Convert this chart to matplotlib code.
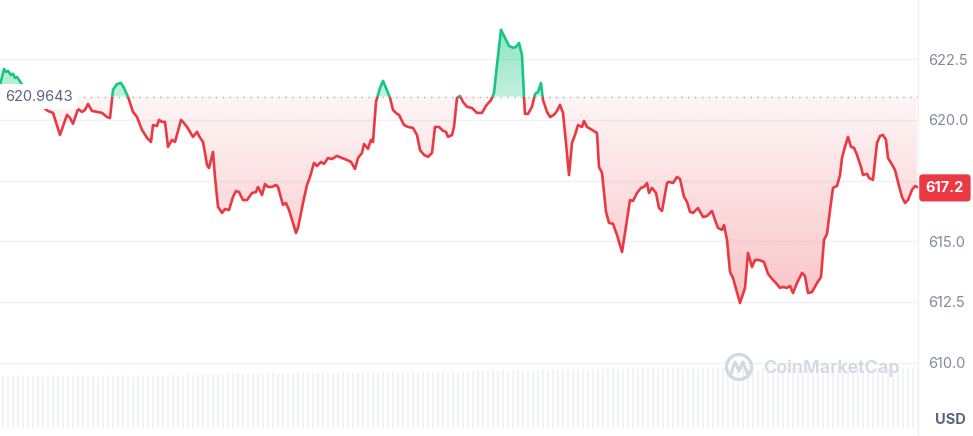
import numpy as np
import matplotlib
matplotlib.use('Agg')
import matplotlib.pyplot as plt
from matplotlib.colors import to_rgb
from matplotlib.patches import Rectangle, Circle
from matplotlib.path import Path

plt.rcParams['font.family'] = ['Inter', 'DejaVu Sans']

RED = '#ea3943'
GREEN = '#16c784'
LABEL = '#58667e'

# price of the period open (dotted reference) and the last price
open_price = 620.9643
last_price = 617.2

# time (sample index across the 24h window) and price in USD
t = [0, 4, 6, 8, 11, 13, 15, 17, 21, 30,
     40, 48, 53, 60, 67, 70, 73, 78, 82, 85,
     88, 92, 97, 102, 107, 110, 113, 117, 121, 124,
     128, 133, 137, 142, 147, 151, 153, 157, 159, 162,
     165, 168, 172, 175, 181, 183, 187, 193, 197, 199,
     203, 205, 207, 209, 213, 215, 218, 222, 225, 229,
     233, 236, 239, 243, 247, 252, 256, 258, 262, 265,
     268, 272, 276, 278, 283, 286, 289, 293, 296, 298,
     303, 307, 310, 314, 317, 321, 324, 328, 332, 337,
     342, 347, 351, 355, 358, 362, 364, 368, 371, 373,
     376, 380, 383, 386, 390, 393, 397, 399, 404, 408,
     413, 417, 420, 424, 428, 432, 435, 439, 443, 446,
     448, 452, 454, 457, 460, 463, 467, 472, 477, 482,
     486, 491, 494, 497, 501, 505, 509, 513, 516, 519,
     522, 524, 525, 528, 532, 535, 538, 541, 543, 547,
     550, 554, 557, 560, 563, 566, 569, 572, 575, 578,
     582, 584, 587, 592, 597, 599, 602, 606, 609, 613,
     617, 622, 625, 630, 633, 637, 641, 644, 647, 649,
     652, 656, 659, 662, 667, 669, 673, 677, 680, 684,
     687, 690, 693, 698, 703, 707, 712, 715, 718, 722,
     724, 727, 730, 733, 740, 745, 748, 752, 755, 759,
     764, 768, 772, 776, 780, 783, 787, 790, 793, 797,
     802, 805, 808, 812, 817, 821, 824, 827, 830, 833,
     837, 840, 842, 845, 848, 851, 854, 857, 861, 863,
     867, 869, 873, 877, 880, 883, 886, 888, 891, 895,
     899, 902, 905, 908, 912, 915, 917]

price = [621.44, 622.10, 621.98, 622.02, 621.85, 621.90, 621.73, 621.77, 621.52, 621.03,
         620.62, 620.37, 620.29, 619.38, 620.21, 620.08, 619.84, 620.45, 620.33, 620.41,
         620.66, 620.37, 620.33, 620.29, 620.12, 620.08, 621.24, 621.48, 621.52, 621.32,
         620.95, 620.33, 620.12, 619.59, 619.26, 619.09, 619.79, 619.75, 620.00, 619.92,
         619.92, 618.89, 619.18, 619.09, 620.00, 619.92, 619.71, 619.30, 619.51, 619.34,
         619.09, 618.64, 618.15, 618.02, 618.68, 617.65, 616.42, 616.17, 616.33, 616.29,
         616.83, 617.07, 617.03, 616.70, 616.70, 616.99, 617.03, 617.24, 616.91, 617.36,
         617.24, 617.24, 617.32, 617.24, 616.50, 616.58, 616.29, 615.76, 615.34, 615.55,
         616.58, 617.32, 617.65, 618.23, 618.10, 618.27, 618.19, 618.43, 618.39, 618.52,
         618.43, 618.35, 618.27, 617.98, 618.43, 618.64, 619.01, 618.81, 619.18, 619.09,
         620.74, 621.32, 621.61, 621.32, 620.91, 620.41, 620.25, 620.21, 619.79, 619.71,
         619.67, 619.38, 618.76, 618.56, 618.48, 618.64, 619.71, 619.71, 619.55, 619.51,
         619.30, 619.38, 619.71, 620.91, 620.99, 620.74, 620.54, 620.49, 620.29, 620.29,
         620.58, 620.82, 621.11, 622.27, 623.71, 623.38, 623.05, 622.97, 623.01, 623.17,
         622.68, 620.95, 620.25, 620.25, 620.54, 621.07, 621.15, 621.52, 620.82, 620.33,
         620.12, 620.21, 620.37, 620.62, 620.29, 619.05, 617.73, 619.05, 619.38, 619.79,
         619.71, 619.96, 619.71, 619.59, 619.46, 618.06, 617.82, 616.21, 615.76, 615.72,
         615.26, 614.56, 615.34, 616.70, 616.66, 616.99, 617.20, 617.24, 617.40, 616.99,
         617.20, 616.99, 616.37, 616.25, 617.40, 617.45, 617.40, 617.65, 617.57, 616.83,
         616.62, 616.21, 616.17, 616.37, 616.00, 616.04, 616.25, 615.88, 615.55, 615.47,
         615.67, 615.06, 613.74, 613.49, 612.46, 613.08, 614.52, 613.94, 614.23, 614.23,
         614.15, 613.66, 613.45, 613.28, 613.08, 613.12, 613.08, 613.16, 612.87, 613.28,
         613.70, 613.57, 612.87, 612.91, 613.28, 613.53, 615.06, 615.30, 616.29, 617.20,
         617.28, 617.73, 618.43, 618.89, 619.30, 618.89, 618.85, 618.56, 618.06, 617.73,
         617.78, 617.61, 617.53, 619.05, 619.34, 619.38, 619.18, 618.43, 618.23, 617.94,
         617.28, 616.83, 616.58, 616.70, 617.12, 617.28, 617.24]

# volume bars (arbitrary units, one per 5 samples), very faint in the original
volume = [5.2, 5.1, 5.2, 5.2, 5.3, 5.1, 5.2, 5.2, 5.1, 5.2, 5.3, 5.2, 5.2, 5.1, 5.2, 5.3, 5.2, 5.2, 5.2, 5.1,
          5.2, 5.3, 5.2, 5.2, 5.3, 5.2, 5.1, 5.2, 5.3, 5.3, 5.2, 5.3, 5.2, 5.3, 5.3, 5.2, 5.3, 5.4, 5.3, 5.3,
          5.4, 5.3, 5.4, 5.4, 5.3, 5.4, 5.4, 5.5, 5.4, 5.4, 5.5, 5.4, 5.4, 5.5, 5.5, 5.4, 5.5, 5.5, 5.4, 5.5,
          5.5, 5.5, 5.4, 5.5, 5.6, 5.5, 5.5, 5.5, 5.6, 5.5, 5.5, 5.6, 5.5, 5.6, 5.5, 5.6, 5.6, 5.5, 5.6, 5.6,
          5.6, 5.6, 5.7, 5.6, 5.6, 5.7, 5.6, 5.7, 5.7, 5.6, 5.7, 5.7, 5.7, 5.6, 5.7, 5.8, 5.7, 5.7, 5.8, 5.7,
          5.8, 5.7, 5.8, 5.8, 5.7, 5.8, 5.8, 5.8, 5.9, 5.8, 5.8, 5.9, 5.8, 5.9, 5.8, 5.9, 5.9, 5.8, 5.9, 5.9,
          5.9, 5.9, 6.0, 5.9, 5.9, 6.0, 5.9, 6.0, 6.0, 5.9, 6.0, 6.0, 5.9, 6.0, 6.0, 6.0, 5.9, 6.0, 6.0, 6.0,
          5.9, 6.0, 6.0, 6.0, 6.0, 5.9, 6.0, 6.0, 6.0, 6.0, 6.0, 5.9, 6.0, 6.0, 6.0, 5.9, 6.0, 6.0, 6.0, 6.0,
          5.9, 6.0, 6.0, 6.0, 5.9, 6.0, 6.0, 6.0, 5.9, 6.0, 6.0, 6.0, 5.9, 6.0, 6.0, 6.0, 5.9, 6.0, 6.0, 6.0,
          6.0, 6.0, 6.0, 6.0]

y_ticks = [610.0, 612.5, 615.0, 617.5, 620.0, 622.5]

W, H = 973, 436
XMAX = 918

t = np.array(t, dtype=float)
price = np.array(price)

fig = plt.figure(figsize=(W / 100, H / 100), dpi=100)
fig.patch.set_facecolor('white')
ax = fig.add_axes([0, 0, XMAX / W, 1])
ax.set_xlim(0, XMAX)
ylim = (606.98, 624.94)


def gradient_fill(mask, color, y_lo, y_hi, a_lo, a_hi):
    # fill between line and open price, shaded with a vertical alpha gradient
    coll = ax.fill_between(t, price, open_price, where=mask, interpolate=True,
                           facecolor='none', edgecolor='none')
    clip = Path.make_compound_path(*coll.get_paths())
    img = np.zeros((256, 1, 4))
    img[..., :3] = to_rgb(color)
    img[:, 0, 3] = np.linspace(a_hi, a_lo, 256)
    im = ax.imshow(img, aspect='auto', origin='upper', extent=[0, XMAX, y_lo, y_hi],
                   interpolation='bilinear', zorder=1)
    im.set_clip_path(clip, ax.transData)


gradient_fill(price <= open_price, RED, 612.3, open_price, 0.30, 0.05)
gradient_fill(price >= open_price, GREEN, open_price, 623.8, 0.26, 0.48)

# price line, green above the open price and red below
for color, lo, hi in [(GREEN, open_price, 640), (RED, 590, open_price)]:
    ln, = ax.plot(t, price, color=color, lw=1.9, zorder=3, solid_joinstyle='round')
    ln.set_clip_path(Rectangle((0, lo), XMAX, hi - lo, transform=ax.transData))

ax.axhline(open_price, color='#a9afbc', lw=1.0, ls=(0, (1, 4)), zorder=2)
ax.text(0.006, open_price, f'{open_price:.4f}', transform=ax.get_yaxis_transform(),
        ha='left', va='center', fontsize=10.5, color=LABEL, zorder=6,
        bbox=dict(boxstyle='square,pad=0.35', fc='white', ec='none'))

ax.set_ylim(*ylim)
ax.set_yticks(y_ticks)
ax.set_xticks([])
ax.yaxis.tick_right()
# the 617.5 label sits under the last price tag, so it is left blank
ax.yaxis.set_major_formatter(matplotlib.ticker.FuncFormatter(
    lambda v, p: '' if abs(v - 617.5) < 0.01 else f'{v:.1f}'))
ax.tick_params(axis='y', length=0, pad=7, labelsize=10.5, labelcolor='#808a9d')
ax.grid(axis='y', color='#eff1f4', lw=1)
ax.set_axisbelow(True)
for s in ['top', 'left', 'bottom']:
    ax.spines[s].set_visible(False)
ax.spines['right'].set_color('#eceef2')

# last price tag
ax.text(1.0085, last_price, f'{last_price:.1f}', transform=ax.get_yaxis_transform(),
        ha='left', va='center', fontsize=10.5, color='white', weight='bold', zorder=10,
        clip_on=False, bbox=dict(boxstyle='round,pad=0.45,rounding_size=0.25', fc=RED, ec='none'))

# volume strip
vax = fig.add_axes([0, 8 / H, XMAX / W, 60 / H])
vol_t = np.arange(len(volume)) * 5 + 2.5
vax.bar(vol_t, volume, width=2.0, color='#f1f3f6', linewidth=0)
vax.set_xlim(0, XMAX)
vax.set_ylim(0, 6.0)
vax.axis('off')

# overlay in pixel units for watermark and unit label
ov = fig.add_axes([0, 0, 1, 1])
ov.set_xlim(0, W)
ov.set_ylim(H, 0)
ov.axis('off')
wm = '#d3d9e2'
ov.add_patch(Circle((739, 367), 12.5, fill=False, ec=wm, lw=2.4))
ov.plot([731, 735, 739, 743, 747], [373, 362, 371, 362, 373], color=wm, lw=2.2,
        solid_joinstyle='round', solid_capstyle='round')
ov.text(763, 368, 'CoinMarketCap', ha='left', va='center', fontsize=13,
        weight='semibold', color=wm)
ov.text(950, 420, 'USD', ha='center', va='center', fontsize=10.5, weight='bold', color=LABEL)

fig.savefig('out.png', dpi=100, facecolor='white')
